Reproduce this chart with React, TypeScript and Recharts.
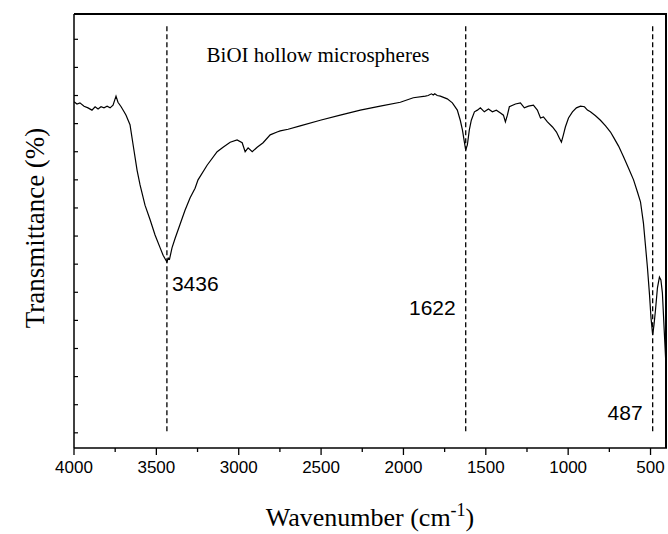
import { LineChart, Line, XAxis, YAxis, ReferenceLine, Customized } from "recharts";

// FT-IR spectrum of BiOI hollow microspheres (wavenumber in cm-1, transmittance in a.u.)
const wavenumber = [
  4000, 3982, 3964, 3939, 3915, 3891, 3872, 3854, 3836, 3818, 3799, 3781, 3763, 3745, 3733,
  3714, 3696, 3684, 3660, 3641, 3617, 3599, 3569, 3538, 3508, 3477, 3459, 3436, 3428, 3420,
  3405, 3386, 3356, 3326, 3295, 3265, 3247, 3192, 3131, 3095, 3052, 3010, 2979, 2961, 2943,
  2918, 2888, 2852, 2809, 2767, 2748, 2700, 2627, 2505, 2384, 2262, 2141, 2019, 1940, 1867,
  1850, 1830, 1819, 1810, 1795, 1776, 1734, 1703, 1673, 1655, 1642, 1630, 1622, 1612, 1600,
  1588, 1569, 1551, 1533, 1509, 1484, 1460, 1436, 1411, 1393, 1381, 1369, 1357, 1320, 1290,
  1266, 1241, 1211, 1187, 1168, 1150, 1126, 1095, 1071, 1053, 1041, 1029, 1017, 998, 974,
  950, 925, 901, 883, 865, 834, 804, 773, 743, 725, 694, 664, 634, 603, 579,
  561, 543, 531, 519, 506, 497, 487, 479, 470, 458, 446, 437, 428, 416, 404, 400,
];
const transmittance = [
  63.9, 63.5, 63.7, 63.1, 62.8, 62.4, 63.0, 62.6, 63.0, 62.8, 63.1, 62.8, 63.3, 64.9, 63.8,
  63.0, 62.1, 61.5, 59.8, 56.2, 51.7, 49.1, 45.5, 42.9, 40.2, 37.9, 36.6, 35.4, 36.1, 35.9,
  37.9, 39.6, 42.1, 44.6, 46.8, 48.5, 50.0, 52.6, 55.0, 55.8, 56.7, 57.1, 56.6, 55.0, 55.7,
  55.0, 55.8, 56.6, 58.0, 58.5, 58.7, 59.0, 59.6, 60.6, 61.5, 62.4, 63.1, 63.8, 64.6, 64.9,
  65.0, 65.3, 65.1, 65.3, 65.0, 64.9, 64.4, 63.7, 62.4, 60.6, 58.9, 56.7, 55.3, 56.2, 58.9,
  60.6, 62.1, 62.4, 62.8, 62.1, 62.6, 62.1, 62.4, 61.9, 61.5, 60.3, 61.5, 63.0, 63.5, 63.7,
  62.8, 63.1, 63.3, 62.4, 61.0, 61.2, 60.3, 59.4, 58.5, 57.4, 56.7, 58.0, 59.4, 61.0, 62.1,
  62.8, 63.1, 63.0, 62.4, 62.1, 61.4, 60.6, 59.6, 58.5, 57.6, 56.0, 54.1, 52.1, 50.0, 47.8,
  46.1, 42.3, 38.4, 34.5, 29.5, 25.4, 22.4, 24.2, 26.8, 30.8, 32.7, 32.2, 29.9, 22.7, 15.6, 11.0,
];

const peakMarks = [3436, 1622, 487];
const peakNames = ["3436", "1622", "487"];
const markerSpan = [5.3, 77.7];

const xDomain = [400, 4000];
const yDomain = [2.3, 79.5];
const majorTicks = [4000, 3500, 3000, 2500, 2000, 1500, 1000, 500];
const minorTicks = [3750, 3250, 2750, 2250, 1750, 1250, 750];
const yTicks = [5, 10, 15, 20, 25, 30, 35, 40, 45, 50, 55, 60, 65, 70, 75];

const spectrum = wavenumber.map((w, i) => ({ w, t: transmittance[i] }));

const serif = "'Liberation Serif', 'Times New Roman', serif";
const sans = "'Liberation Sans', Arial, sans-serif";

// chart box: margins plus axis sizes give the plot rectangle
const W = 668;
const H = 534;
const margin = { top: 14, right: 1, bottom: 56, left: 73 };
const xAxisHeight = 30;
const yAxisWidth = 1;
const plotLeft = margin.left + yAxisWidth;
const plotTop = margin.top;
const plotRight = W - margin.right;
const plotBottom = H - margin.bottom - xAxisHeight;
const frameWidth = 2;

const XTick = ({ x, y, payload }: any) => {
  const major = majorTicks.includes(payload.value);
  return (
    <g>
      <line x1={x} x2={x} y1={y} y2={y + (major ? 7 : 4)} stroke="#000" strokeWidth={1.3} />
      {major && (
        <text x={x} y={y + 25} textAnchor="middle" fontFamily={sans} fontSize={17} fill="#000">
          {payload.value}
        </text>
      )}
    </g>
  );
};

const YTick = ({ x, y }: any) => (
  <line x1={x} x2={x + 4} y1={y} y2={y} stroke="#000" strokeWidth={1.2} />
);

const PeakLabel = ({ viewBox, text, side, baseline }: any) => {
  const vx = viewBox?.x ?? 0;
  return (
    <text
      x={side === "right" ? vx + 5 : vx - 10}
      y={baseline}
      textAnchor={side === "right" ? "start" : "end"}
      fontFamily={sans}
      fontSize={21}
      fill="#000"
    >
      {text}
    </text>
  );
};

const labelSide = ["right", "left", "left"];
const labelBaseline = [291, 315, 420];

const Titles = () => (
  <g>
    <text x={318} y={62} textAnchor="middle" fontFamily={serif} fontSize={21} fill="#000">
      BiOI hollow microspheres
    </text>
    <text
      x={0}
      y={0}
      transform="translate(44, 228) rotate(-90)"
      textAnchor="middle"
      fontFamily={serif}
      fontSize={27}
      fill="#000"
    >
      Transmittance (%)
    </text>
    <text x={370} y={526} textAnchor="middle" fontFamily={serif} fontSize={26} fill="#000">
      Wavenumber (cm
      <tspan dy={-10} fontSize={18}>-1</tspan>
      <tspan dy={10}>)</tspan>
    </text>
  </g>
);

export default function App() {
  return (
    <div style={{ position: "absolute", left: 0, top: 0, width: W, height: H, background: "#fff" }}>
      <LineChart width={W} height={H} data={spectrum} margin={margin}>
        <XAxis
          dataKey="w"
          type="number"
          domain={xDomain}
          reversed
          allowDataOverflow
          ticks={[...majorTicks, ...minorTicks]}
          interval={0}
          tick={<XTick />}
          tickLine={false}
          tickSize={0}
          tickMargin={0}
          height={xAxisHeight}
          axisLine={{ stroke: "#000", strokeWidth: 1.5 }}
        />
        <YAxis
          type="number"
          domain={yDomain}
          allowDataOverflow
          ticks={yTicks}
          interval={0}
          tick={<YTick />}
          tickLine={false}
          tickSize={0}
          tickMargin={0}
          width={yAxisWidth}
          axisLine={{ stroke: "#000", strokeWidth: 1.5 }}
        />
        {peakMarks.map((m, i) => (
          <ReferenceLine
            key={m}
            segment={[
              { x: m, y: markerSpan[0] },
              { x: m, y: markerSpan[1] },
            ]}
            stroke="#000"
            strokeWidth={1.3}
            strokeDasharray="5 3"
            label={<PeakLabel text={peakNames[i]} side={labelSide[i]} baseline={labelBaseline[i]} />}
          />
        ))}
        <Line
          type="linear"
          dataKey="t"
          stroke="#000"
          strokeWidth={1.2}
          dot={false}
          isAnimationActive={false}
        />
        <Customized component={Titles} />
      </LineChart>
      {/* top and right edges of the plot frame */}
      <div
        style={{
          position: "absolute",
          left: plotLeft,
          top: plotTop - 1,
          width: plotRight - plotLeft - frameWidth,
          height: plotBottom - plotTop - 1,
          borderTop: `${frameWidth}px solid #000`,
          borderRight: `${frameWidth}px solid #000`,
          pointerEvents: "none",
        }}
      />
    </div>
  );
}
